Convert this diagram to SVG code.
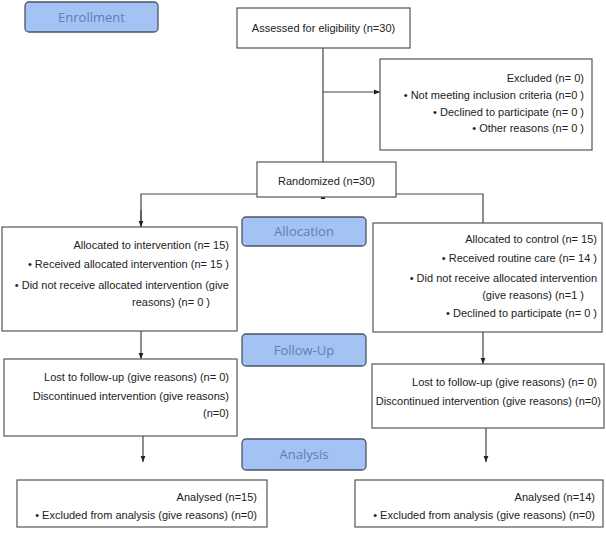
<svg xmlns="http://www.w3.org/2000/svg" width="606" height="535" viewBox="0 0 606 535">
<style>
.box{fill:#fff;stroke:#555;stroke-width:1.2}
.lab{fill:#a4c2f4;stroke:#4a5566;stroke-width:1.3}
.lt{font-family:"Open Sans","Liberation Sans",sans-serif;font-size:13px;fill:#5f7fb0;text-anchor:middle}
.t{font-family:"Liberation Sans",Arial,sans-serif;font-size:11px;fill:#222}
.e{text-anchor:end}
.m{text-anchor:middle}
.c{fill:none;stroke:#444;stroke-width:1.2}
</style>
<defs>
<marker id="ah" viewBox="0 0 10 10" refX="10" refY="5" markerWidth="6" markerHeight="6" orient="auto" markerUnits="userSpaceOnUse">
<path d="M0,1 L10,5 L0,9 z" fill="#222"/>
</marker>
</defs>
<g id="connectors">
<line class="c" x1="323" y1="48" x2="323" y2="162"/>
<line class="c" x1="323" y1="92" x2="380" y2="92" marker-end="url(#ah)"/>
<line class="c" x1="323" y1="197" x2="323" y2="193" marker-end="url(#ah)"/>
<polyline class="c" points="141,227 141,194 483,194 483,223"/>
<line class="c" x1="141" y1="210" x2="141" y2="227" marker-end="url(#ah)"/>
<line class="c" x1="141" y1="331" x2="141" y2="359" marker-end="url(#ah)"/>
<line class="c" x1="483" y1="332" x2="483" y2="364" marker-end="url(#ah)"/>
<line class="c" x1="143" y1="436" x2="143" y2="462" marker-end="url(#ah)"/>
<line class="c" x1="486" y1="428" x2="486" y2="462" marker-end="url(#ah)"/>
</g>
<g id="enrollment"><rect class="lab" x="25" y="2" width="133" height="30" rx="4"/><text class="lt" x="91.5" y="22">Enrollment</text></g>
<g id="assessed"><rect class="box" x="237" y="8" width="173" height="40"/><text class="t m" x="323.5" y="32">Assessed for eligibility (n=30)</text></g>
<g id="excluded"><rect class="box" x="380" y="59" width="212" height="91"/>
<text class="t e" x="584" y="82">Excluded (n= 0)</text>
<text class="t e" x="584" y="99">• Not meeting inclusion criteria (n=0  )</text>
<text class="t e" x="584" y="116">• Declined to participate (n= 0 )</text>
<text class="t e" x="584" y="132">• Other reasons (n= 0 )</text></g>
<g id="randomized"><rect class="box" x="257" y="162" width="139" height="35"/><text class="t m" x="326.5" y="185">Randomized (n=30)</text></g>
<g id="allocation"><rect class="lab" x="242" y="217" width="124" height="29" rx="4"/><text class="lt" x="304" y="236">Allocation</text></g>
<g id="alloc-intervention"><rect class="box" x="2" y="227" width="235" height="104"/>
<text class="t e" x="229" y="249">Allocated to intervention (n= 15)</text>
<text class="t e" x="229" y="268">• Received allocated intervention (n= 15 )</text>
<text class="t e" x="229" y="289">• Did not receive allocated intervention (give</text>
<text class="t e" x="210" y="306">reasons) (n= 0 )</text></g>
<g id="alloc-control"><rect class="box" x="373" y="223" width="229" height="109"/>
<text class="t e" x="597" y="243">Allocated to control (n= 15)</text>
<text class="t e" x="597" y="262">• Received routine care (n= 14  )</text>
<text class="t e" x="597" y="282">• Did not receive allocated intervention</text>
<text class="t e" x="584" y="299">(give reasons) (n=1  )</text>
<text class="t e" x="597" y="317">• Declined to participate (n= 0 )</text></g>
<g id="followup"><rect class="lab" x="242" y="334" width="124" height="32" rx="4"/><text class="lt" x="304" y="355">Follow-Up</text></g>
<g id="fu-left"><rect class="box" x="4" y="359" width="233" height="77"/>
<text class="t e" x="229" y="381">Lost to follow-up (give reasons) (n= 0)</text>
<text class="t e" x="229" y="400">Discontinued intervention (give reasons)</text>
<text class="t e" x="229" y="417">(n=0)</text></g>
<g id="fu-right"><rect class="box" x="372" y="364" width="232" height="64"/>
<text class="t e" x="597" y="386">Lost to follow-up (give reasons) (n= 0)</text>
<text class="t e" x="601" y="405">Discontinued intervention (give reasons) (n=0)</text></g>
<g id="analysis"><rect class="lab" x="242" y="439" width="124" height="31" rx="4"/><text class="lt" x="304" y="459">Analysis</text></g>
<g id="an-left"><rect class="box" x="17" y="480" width="250" height="47"/>
<text class="t e" x="257" y="501">Analysed (n=15)</text>
<text class="t e" x="257" y="519">• Excluded from analysis (give reasons) (n=0)</text></g>
<g id="an-right"><rect class="box" x="355" y="480" width="248" height="47"/>
<text class="t e" x="595" y="501">Analysed (n=14)</text>
<text class="t e" x="595" y="519">• Excluded from analysis (give reasons) (n=0)</text></g>
</svg>
